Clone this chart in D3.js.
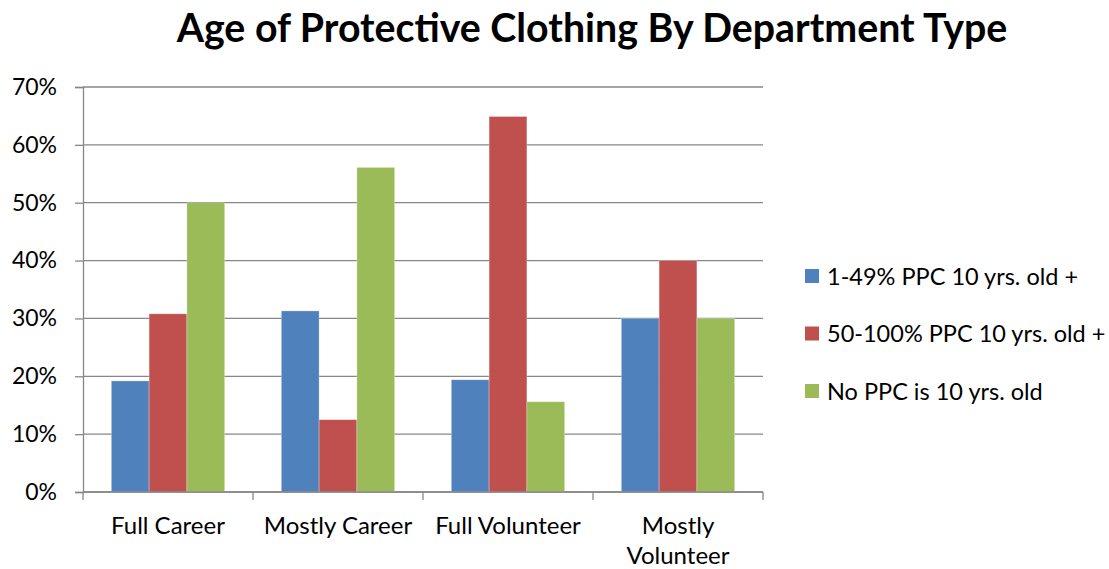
<!DOCTYPE html>
<html><head><meta charset="utf-8">
<script src="https://cdn.jsdelivr.net/npm/d3@7"></script>
<style>body{margin:0;background:#fff}text{font-family:Lato,"Open Sans",sans-serif;fill:#000}</style>
</head><body>
<svg id="c" width="1109" height="569"></svg>
<script>
const categories = ["Full Career", "Mostly Career", "Full Volunteer", "Mostly Volunteer"];
const seriesNames = ["1-49% PPC 10 yrs. old +", "50-100% PPC 10 yrs. old +", "No PPC is 10 yrs. old"];
const s1 = [0.192, 0.313, 0.194, 0.30];
const s2 = [0.308, 0.125, 0.649, 0.40];
const s3 = [0.50, 0.561, 0.156, 0.30];
const yTicks = [0, 0.1, 0.2, 0.3, 0.4, 0.5, 0.6, 0.7];
const colors = ["#4F81BD", "#C0504D", "#9BBB59"];
const series = [s1, s2, s3];

const svg = d3.select("#c");
const L = 83, R = 763, T = 87, B = 492;
const x = d3.scaleBand().domain(categories).range([L, R]).paddingInner(0).paddingOuter(0);
const y = d3.scaleLinear().domain([0, 0.7]).range([B, T]);
const bw = x.bandwidth() / 4.5;
const xs = d3.scaleBand().domain(d3.range(3)).range([0.75 * bw, 3.75 * bw]);

// gridlines
svg.append("g").selectAll("line").data(yTicks).join("line")
  .attr("x1", L).attr("x2", R).attr("y1", d => y(d)).attr("y2", d => y(d))
  .attr("stroke", "#878787").attr("stroke-width", 1.3);

// bars
series.forEach((s, i) => {
  svg.append("g").selectAll("rect").data(s).join("rect")
    .attr("x", (d, j) => x(categories[j]) + xs(i))
    .attr("y", d => y(d))
    .attr("width", xs.bandwidth())
    .attr("height", d => B - y(d))
    .attr("fill", colors[i])
    .attr("stroke", "rgba(255,255,255,0.35)").attr("stroke-width", 0.8);
});

// y axis
const yAxis = svg.append("g").attr("transform", `translate(${L},0)`)
  .call(d3.axisLeft(y).tickValues(yTicks).tickFormat(d3.format(".0%")).tickSize(8).tickPadding(18));
yAxis.select(".domain").attr("stroke", "#878787").attr("stroke-width", 1.3);
yAxis.selectAll(".tick line").attr("stroke", "#878787").attr("stroke-width", 1.3);
yAxis.selectAll("text").attr("font-size", 23).attr("font-family", "Lato").attr("fill", "#000");

// x axis
const xg = svg.append("g");
xg.append("line").attr("x1", L).attr("x2", R).attr("y1", B).attr("y2", B)
  .attr("stroke", "#878787").attr("stroke-width", 1.3);
const bounds = categories.map(c => x(c)).concat([R]);
xg.selectAll("line.t").data(bounds).join("line").attr("class", "t")
  .attr("x1", d => d).attr("x2", d => d).attr("y1", B).attr("y2", B + 8)
  .attr("stroke", "#878787").attr("stroke-width", 1.3);
const wrapped = {"Mostly Volunteer": ["Mostly", "Volunteer"]};
categories.forEach(c => {
  const lines = wrapped[c] || [c];
  const t = xg.append("text").attr("text-anchor", "middle").attr("font-size", 24)
    .attr("x", x(c) + x.bandwidth() / 2).attr("y", 534);
  lines.forEach((ln, k) => t.append("tspan").attr("x", x(c) + x.bandwidth() / 2).attr("dy", k ? 30 : 0).text(ln));
});

// legend
const lg = svg.append("g");
seriesNames.forEach((n, i) => {
  const cy = 276 + i * 57.5;
  lg.append("rect").attr("x", 805).attr("y", cy - 7).attr("width", 14).attr("height", 14).attr("fill", colors[i]);
  lg.append("text").attr("x", 827).attr("y", cy + 8.5).attr("font-size", 23.5).text(n);
});

// title
const title = svg.append("text").attr("x", 592).attr("y", 42).attr("text-anchor", "middle")
  .attr("font-weight", "bold").attr("font-size", 34).text("Age of Protective Clothing By Department Type");
const w = title.node().getComputedTextLength();
title.attr("font-size", 34 * 831 / w);
</script>
</body></html>
